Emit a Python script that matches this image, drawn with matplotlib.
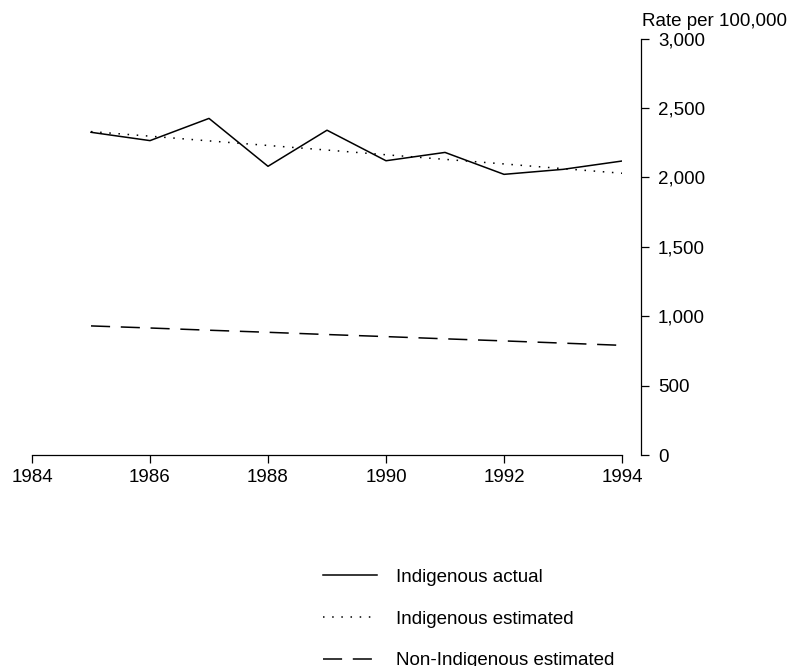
import matplotlib
matplotlib.use('Agg')
import matplotlib.pyplot as plt

plt.rcParams['font.family'] = ['Liberation Sans', 'DejaVu Sans']

# rates per 100,000
years = [1985, 1986, 1987, 1988, 1989, 1990, 1991, 1992, 1993, 1994]
indig_actual = [2325, 2265, 2425, 2080, 2340, 2120, 2180, 2022, 2058, 2118]
indig_estimated = [2330, 2297, 2263, 2230, 2197, 2163, 2130, 2097, 2063, 2030]
nonindig_estimated = [930, 915, 899, 884, 868, 853, 837, 822, 806, 790]

xticks = [1984, 1986, 1988, 1990, 1992, 1994]
yticks = [0, 500, 1000, 1500, 2000, 2500, 3000]

fig = plt.figure(figsize=(7.93, 6.66), dpi=100)
ax = fig.add_axes([32 / 793, 211 / 666, 590 / 793, 416.4 / 666])

lw = 1.1
ax.plot(years, indig_actual, color='black', lw=lw, label='Indigenous actual')
ax.plot(years, indig_estimated, color='black', lw=lw, linestyle=(0, (1, 5)),
        label='Indigenous estimated')
ax.plot(years, nonindig_estimated, color='black', lw=lw, linestyle=(0, (12.5, 7)),
        label='Non-Indigenous estimated')

ax.set_xlim(1984, 1994)
ax.set_ylim(0, 3000)

ax.spines['top'].set_visible(False)
ax.spines['left'].set_visible(False)
ax.spines['right'].set_position(('outward', 14))
for s in ('bottom', 'right'):
    ax.spines[s].set_linewidth(0.9)

ax.set_xticks(xticks)
ax.set_xticklabels([str(x) for x in xticks])
ax.yaxis.tick_right()
ax.set_yticks(yticks)
ax.set_yticklabels([f'{y:,}' for y in yticks])
ax.tick_params(axis='x', direction='out', length=6, width=0.9, pad=4, labelsize=13.5)
ax.tick_params(axis='y', direction='out', length=6, width=0.9, pad=6, labelsize=13.5)

fig.text(642 / 793, 1 - 22 / 666, 'Rate per 100,000', ha='left', va='center', fontsize=13.5)

fig.legend(loc='upper left', bbox_to_anchor=(306 / 793, 1 - 552 / 666), frameon=False,
           fontsize=13.5, handlelength=2.9, handletextpad=1.0, labelspacing=1.31)

fig.savefig('out.png', dpi=100)
